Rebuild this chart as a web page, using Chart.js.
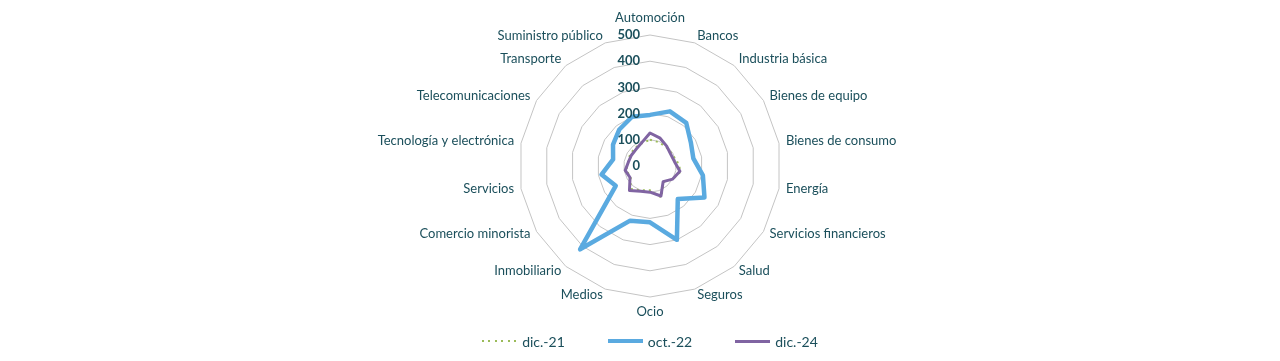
<!DOCTYPE html>
<html lang="es">
<head>
  <meta charset="UTF-8" />
  <title>Sectores | Radar</title>
  <script src="https://cdn.jsdelivr.net/npm/chart.js"></script>
  <style>
    body {
      margin: 0;
      background: #fff;
      font-family: Lato, sans-serif;
    }

    .wrap {
      position: relative;
      width: 1280px;
      height: 361px;
    }

    .legend {
      position: absolute;
      left: 20px;
      width: 1260px;
      top: 331px;
      height: 20px;
      display: flex;
      justify-content: center;
      align-items: center;
      gap: 43px;
      color: #1b4f5b;
      font-size: 14px;
    }

    .legend .item {
      display: flex;
      align-items: center;
    }

    .legend i {
      display: inline-block;
      width: 35px;
      margin-right: 5px;
    }
  </style>
</head>
<body>

  <div class="wrap">
    <canvas id="radar" width="1280" height="361"></canvas>
    <div class="legend" id="legend"></div>
  </div>

  <script>
    const categories = [
      'Automoción', 'Bancos', 'Industria básica', 'Bienes de equipo', 'Bienes de consumo',
      'Energía', 'Servicios financieros', 'Salud', 'Seguros', 'Ocio', 'Medios',
      'Inmobiliario', 'Comercio minorista', 'Servicios', 'Tecnología y electrónica',
      'Telecomunicaciones', 'Transporte', 'Suministro público'
    ];
    const seriesNames = ['dic.-21', 'oct.-22', 'dic.-24'];
    const dic21 = [100, 97, 95, 95, 105, 120, 100, 80, 128, 93, 98, 115, 85, 92, 85, 88, 90, 92];
    const oct22 = [195, 222, 215, 180, 168, 205, 240, 165, 300, 215, 222, 415, 151, 188, 143, 163, 182, 200];
    const dic24 = [126, 113, 99, 91, 95, 116, 100, 78, 122, 100, 103, 122, 88, 96, 84, 82, 83, 94];
    const axisMin = 0, axisMax = 500, axisStep = 100;

    const textColor = '#1b4f5b';
    const colors = ['#9bbb59', '#5aaae0', '#8064a2'];

    // excel-style labels: point labels centred on their anchor, tick labels left of the axis
    const excelLabels = {
      id: 'excelLabels',
      afterDraw(chart) {
        const scale = chart.scales.r;
        const ctx = chart.ctx;
        ctx.save();
        ctx.fillStyle = textColor;
        ctx.textBaseline = 'middle';

        ctx.font = '13px Lato';
        categories.forEach((label, i) => {
          const pos = scale.getPointPosition(i, scale.drawingArea + 7);
          const deg = Math.round(i * 360 / categories.length);
          let y = pos.y - 1;
          if (deg === 0) y -= 9;
          if (deg === 180) y += 9;
          ctx.textAlign = (deg === 0 || deg === 180) ? 'center' : (deg < 180 ? 'left' : 'right');
          ctx.fillText(label, pos.x, y);
        });

        ctx.font = 'bold 13px Lato';
        ctx.textAlign = 'right';
        scale.ticks.forEach(t => {
          const y = scale.yCenter - scale.getDistanceFromCenterForValue(t.value);
          ctx.fillText(t.label, scale.xCenter - 10, y);
        });
        ctx.restore();
      }
    };

    new Chart(document.getElementById('radar'), {
      type: 'radar',
      data: {
        labels: categories,
        datasets: [
          {
            label: seriesNames[0],
            data: dic21,
            borderColor: colors[0],
            borderWidth: 2,
            borderDash: [2, 4],
            order: 2
          },
          {
            label: seriesNames[1],
            data: oct22,
            borderColor: colors[1],
            borderWidth: 4.5,
            borderJoinStyle: 'round',
            order: 1
          },
          {
            label: seriesNames[2],
            data: dic24,
            borderColor: colors[2],
            borderWidth: 3,
            borderJoinStyle: 'round',
            order: 0
          }
        ]
      },
      options: {
        responsive: false,
        animation: false,
        devicePixelRatio: 1,
        layout: { padding: { top: 35, bottom: 63, left: 20, right: 0 } },
        elements: {
          point: { radius: 0, hoverRadius: 0 },
          line: { tension: 0, fill: false }
        },
        scales: {
          r: {
            min: axisMin,
            max: axisMax,
            ticks: { stepSize: axisStep, display: false },
            grid: { color: '#c4c4c4', lineWidth: 1 },
            angleLines: { display: false },
            pointLabels: { display: false }
          }
        },
        plugins: {
          legend: { display: false },
          tooltip: { enabled: false }
        }
      },
      plugins: [excelLabels]
    });

    // legend below the chart, built from the series names
    const legend = document.getElementById('legend');
    seriesNames.forEach((name, i) => {
      const item = document.createElement('span');
      item.className = 'item';
      const mark = document.createElement('i');
      if (i === 0) {
        mark.style.height = '2px';
        mark.style.background = `repeating-linear-gradient(90deg, ${colors[0]} 0 2px, transparent 2px 6.5px)`;
      } else {
        mark.style.height = i === 1 ? '4px' : '3px';
        mark.style.background = colors[i];
      }
      item.appendChild(mark);
      item.appendChild(document.createTextNode(name));
      legend.appendChild(item);
    });
  </script>
</body>
</html>
